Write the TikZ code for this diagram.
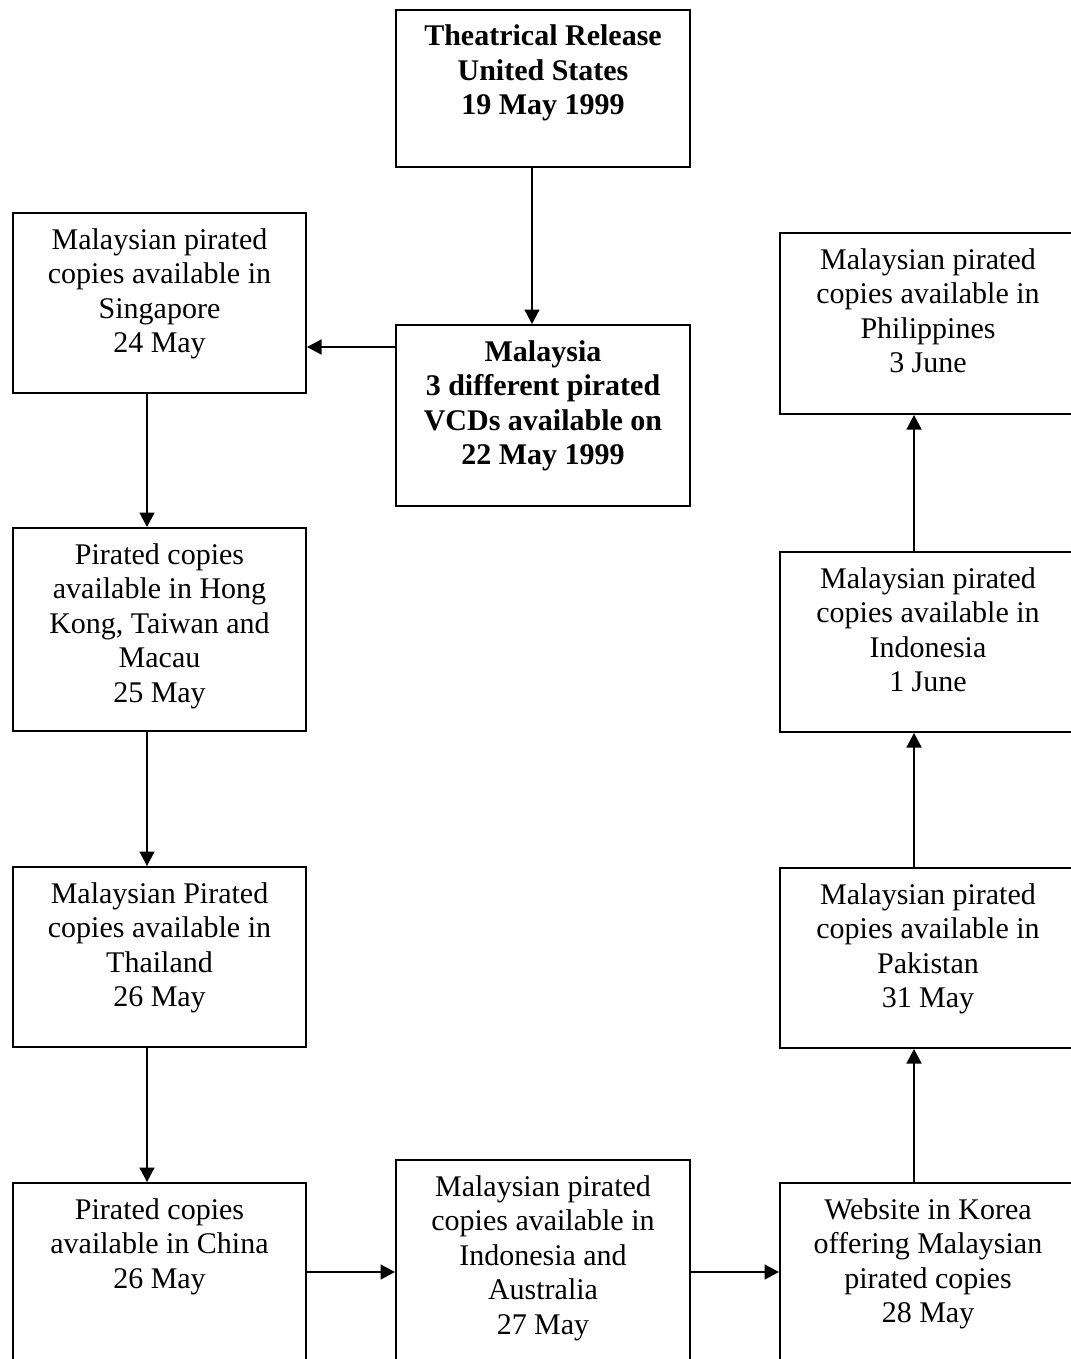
\documentclass[tikz,border=0pt]{standalone}
\usepackage{fontspec}
\setmainfont{Liberation Serif}
\usetikzlibrary{arrows.meta, calc}
\newlength{\pxunit}
\setlength{\pxunit}{0.4pt}
\newcommand{\boxtext}[3]{\parbox[c][#1\pxunit][t]{#2\pxunit}{\centering\fontsize{12}{13.8}\selectfont\rule{0pt}{14.4pt}#3}}

\begin{document}
\begin{tikzpicture}[x=0.4pt, y=-0.4pt, >={Triangle[length=5.8pt, width=6pt]}]
\useasboundingbox (0,0) rectangle (1071,1359);
\begin{scope}[every node/.style={draw, line width=0.8pt, inner sep=0pt, anchor=north west}]


  \node (rel) at (395,9) {\boxtext{157}{294}{\bfseries Theatrical Release\\ United States\\ 19 May 1999}};
  \node (mys) at (395,324) {\boxtext{181}{294}{\bfseries Malaysia\\ 3 different pirated\\ VCDs available on\\ 22 May 1999}};
  \node (sgp) at (12,212) {\boxtext{180}{293}{Malaysian pirated\\ copies available in\\ Singapore\\ 24 May}};
  \node (hkg) at (12,527) {\boxtext{203}{293}{Pirated copies\\ available in Hong\\ Kong, Taiwan and\\ Macau\\ 25 May}};
  \node (tha) at (12,866) {\boxtext{180}{293}{Malaysian Pirated\\ copies available in\\ Thailand\\ 26 May}};
  \node (chn) at (12,1182) {\boxtext{200}{293}{Pirated copies\\ available in China\\ 26 May}};
  \node (ina) at (395,1159) {\boxtext{220}{294}{Malaysian pirated\\ copies available in\\ Indonesia and\\ Australia\\ 27 May}};
  \node (kor) at (779,1182) {\boxtext{200}{296}{Website in Korea\\ offering Malaysian\\ pirated copies\\ 28 May}};
  \node (pak) at (779,867) {\boxtext{180}{296}{Malaysian pirated\\ copies available in\\ Pakistan\\ 31 May}};
  \node (idn) at (779,551) {\boxtext{180}{296}{Malaysian pirated\\ copies available in\\ Indonesia\\ 1 June}};
  \node (phl) at (779,232) {\boxtext{181}{296}{Malaysian pirated\\ copies available in\\ Philippines\\ 3 June}};
\end{scope}

\begin{scope}[line width=0.6pt]
\draw[->] ($(rel.south west)+(137,0)$) -- ($(mys.north west)+(137,0)$);
\draw[->] ($(mys.north west)+(0,23)$) coordinate (m1) -- (m1 -| sgp.east);
\draw[->] ($(sgp.south west)+(135,0)$) -- ($(hkg.north west)+(135,0)$);
\draw[->] ($(hkg.south west)+(135,0)$) -- ($(tha.north west)+(135,0)$);
\draw[->] ($(tha.south west)+(135,0)$) -- ($(chn.north west)+(135,0)$);
\draw[->] ($(chn.north east)+(0,90)$) coordinate (c1) -- (c1 -| ina.west);
\draw[->] ($(ina.north east)+(0,113)$) coordinate (c2) -- (c2 -| kor.west);
\draw[->] ($(kor.north west)+(135,0)$) -- ($(pak.south west)+(135,0)$);
\draw[->] ($(pak.north west)+(135,0)$) -- ($(idn.south west)+(135,0)$);
\draw[->] ($(idn.north west)+(135,0)$) -- ($(phl.south west)+(135,0)$);
\end{scope}

\end{tikzpicture}
\end{document}
